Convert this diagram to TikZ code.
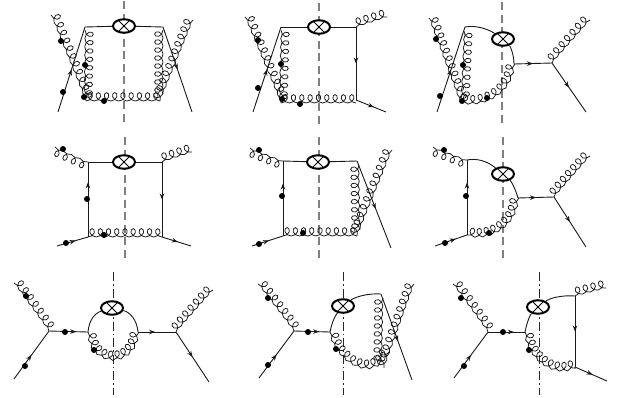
\documentclass[tikz,border=0pt]{standalone}
\usetikzlibrary{decorations,decorations.markings,arrows.meta,shapes.geometric}
% gluon: loops on the left of the direction of travel, base on the path
\def\gA{4.2}\def\gR{4.2}\def\gkA{2.2}\def\gkR{2.2}
\pgfdeclaredecoration{gloop}{initial}{
  \state{initial}[width={\pgfdecoratedpathlength/round(\pgfdecoratedpathlength/8.2)-0.01}]{
    \pgfmathsetmacro\gw{\pgfdecoratedpathlength/round(\pgfdecoratedpathlength/8.2)}
    \pgfpathcurveto{\pgfpoint{\gw/12+\gkA}{0}}{\pgfpoint{\gw/4+\gA-\gw/12}{\gR-\gkR}}{\pgfpoint{\gw/4+\gA}{\gR}}
    \pgfpathcurveto{\pgfpoint{\gw/4+\gA+\gw/12}{\gR+\gkR}}{\pgfpoint{\gw/2-\gw/12+\gkA}{2*\gR}}{\pgfpoint{\gw/2}{2*\gR}}
    \pgfpathcurveto{\pgfpoint{\gw/2+\gw/12-\gkA}{2*\gR}}{\pgfpoint{3*\gw/4-\gA-\gw/12}{\gR+\gkR}}{\pgfpoint{3*\gw/4-\gA}{\gR}}
    \pgfpathcurveto{\pgfpoint{3*\gw/4-\gA+\gw/12}{\gR-\gkR}}{\pgfpoint{\gw-\gw/12-\gkA}{0}}{\pgfpoint{\gw}{0}}
  }
  \state{final}{\pgfpathlineto{\pgfpointdecoratedpathlast}}
}
\tikzset{
  x=1pt,y=-1pt,
  fline/.style={line width=0.9pt,black!90},
  gluon/.style={line width=0.75pt,black!90,decorate,decoration={gloop}},
  arrowat/.style={postaction={decorate,decoration={markings,mark=at position #1 with {\arrow{Stealth[length=6pt,width=4.5pt]}}}}},
  dotn/.style={circle,fill=black,inner sep=0pt,minimum size=6pt},
  blob/.style={ellipse,draw=black,fill=white,line width=2pt,inner sep=0pt,minimum width=22pt,minimum height=13.5pt,
    path picture={\draw[line width=1pt] (path picture bounding box.center) +(-5,-5) -- +(5,5) +(-5,5) -- +(5,-5);}},
  cutg/.style={line width=1.2pt,black!50,dash pattern=on 8pt off 4.5pt},
  cutk/.style={line width=0.9pt,black!85,dash pattern=on 9pt off 3pt on 1.5pt off 3pt},
}
\begin{document}
\begin{tikzpicture}
\useasboundingbox (0,0) rectangle (630,397);
% ---------- diagram 1
\coordinate (a1) at (58,112); \coordinate (a2) at (85,27); \coordinate (a3) at (163,27); \coordinate (a4) at (192,112);
\coordinate (a5) at (51,15); \coordinate (a6) at (86,101); \coordinate (a7) at (193,20); \coordinate (a8) at (160,101);
\coordinate (a9) at (85,30); \coordinate (a10) at (84,97); \coordinate (a11) at (163,30); \coordinate (a12) at (163,94);
\coordinate (c1t) at (124,1); \coordinate (c1b) at (124,125);
\draw[cutg] (c1t) -- (c1b);
\draw[fline,arrowat=0.5] (a1) -- (a2);
\draw[fline,arrowat=0.5] (a3) -- (a4);
\draw[gluon] (a5) -- (a6);
\draw[gluon] (a8) -- (a7);
\draw[gluon] (a9) -- (a10);
\draw[gluon] (a12) -- (a11);
\draw[gluon] (a6) -- (a8);
\node[blob] (b1) at (124,26) {};
\draw[fline] (a2) -- (b1) -- (a3);
\node[dotn] (d11) at (61,41) {};
\node[dotn] (d12) at (63,92) {};
\node[dotn] (d13) at (85,65) {};
\node[dotn] (d14) at (84,97) {};
\node[dotn] (d15) at (104,101) {};
% ---------- diagram 2
\coordinate (e1) at (253,112); \coordinate (e2) at (281,27); \coordinate (e3) at (356,27); \coordinate (e4) at (356,100);
\coordinate (e5) at (386,112); \coordinate (e6) at (245,17); \coordinate (e7) at (281,103); \coordinate (e8) at (387,17);
\coordinate (e9) at (281,30); \coordinate (e10) at (279,98); \coordinate (e11) at (356,103);
\coordinate (c2t) at (319,3); \coordinate (c2b) at (319,125);
\draw[cutg] (c2t) -- (c2b);
\draw[fline,arrowat=0.5] (e1) -- (e2);
\draw[fline,arrowat=0.5] (e3) -- (e4);
\draw[fline,arrowat=0.6] (e4) -- (e5);
\draw[gluon] (e6) -- (e7);
\draw[gluon] (e3) -- (e8);
\draw[gluon] (e9) -- (e10);
\draw[gluon] (e7) -- (e11);
\node[blob] (b2) at (319,27) {};
\draw[fline] (e2) -- (b2) -- (e3);
\node[dotn] (d21) at (258,40) {};
\node[dotn] (d22) at (258,88) {};
\node[dotn] (d23) at (281,64) {};
\node[dotn] (d24) at (282,99) {};
\node[dotn] (d25) at (300,104) {};
% ---------- diagram 3
\coordinate (f1) at (437,112); \coordinate (f2) at (465,27); \coordinate (f3) at (514,64); \coordinate (f4) at (552,63);
\coordinate (f5) at (586,112); \coordinate (f6) at (429,18); \coordinate (f7) at (460,102); \coordinate (f8) at (590,20);
\coordinate (f9) at (464,31); \coordinate (f10) at (461,98);
\coordinate (c3t) at (502,2); \coordinate (c3b) at (502,125);
\draw[cutg] (c3t) -- (c3b);
\draw[fline,arrowat=0.5] (f1) -- (f2);
\draw[fline,arrowat=0.5] (f3) -- (f4);
\draw[fline,arrowat=0.5] (f4) -- (f5);
\draw[gluon] (f6) -- (f7);
\draw[gluon] (f4) -- (f8);
\draw[gluon] (f9) -- (f10);
\draw[gluon] (f7) .. controls (482,108) and (512,95) .. (f3);
\node[blob] (b3) at (503,39) {};
\draw[fline] (f2) .. controls (476,25) and (488,29) .. (b3);
\draw[fline] (b3) .. controls (510,46) and (514,54) .. (f3);
\node[dotn] (d31) at (436,39) {};
\node[dotn] (d32) at (440,96) {};
\node[dotn] (d33) at (463,65) {};
\node[dotn] (d34) at (462,101) {};
\node[dotn] (d35) at (487,98) {};
% ---------- diagram 4
\coordinate (g1) at (88,162); \coordinate (g2) at (162,162); \coordinate (g3) at (88,237); \coordinate (g4) at (162,237);
\coordinate (g5) at (57,246); \coordinate (g6) at (191,246); \coordinate (g7) at (55,147); \coordinate (g8) at (192,152);
\coordinate (c4t) at (125,137); \coordinate (c4b) at (125,260);
\draw[cutg] (c4t) -- (c4b);
\draw[fline,arrowat=0.73] (g3) -- (g1);
\draw[fline,arrowat=0.5] (g2) -- (g4);
\draw[fline,arrowat=0.6] (g5) -- (g3);
\draw[fline,arrowat=0.55] (g4) -- (g6);
\draw[gluon] (g1) -- (g7);
\draw[gluon] (g2) -- (g8);
\draw[gluon] (g3) -- (g4);
\node[blob] (b4) at (124,162) {};
\draw[fline] (g1) -- (b4) -- (g2);
\node[dotn] (d41) at (63,149) {};
\node[dotn] (d42) at (87,199) {};
\node[dotn] (d43) at (66,243) {};
\node[dotn] (d44) at (104,235) {};
% ---------- diagram 5
\coordinate (h1) at (283,161); \coordinate (h2) at (357,161); \coordinate (h3) at (283,236); \coordinate (h4) at (357,236);
\coordinate (h5) at (391,248); \coordinate (h6) at (252,246); \coordinate (h7) at (250,148); \coordinate (h8) at (392,150);
\coordinate (h9) at (359,165); \coordinate (h10) at (360,230);
\coordinate (c5t) at (319,137); \coordinate (c5b) at (319,260);
\draw[cutg] (c5t) -- (c5b);
\draw[fline,arrowat=0.7] (h3) -- (h1);
\draw[fline,arrowat=0.55] (h2) -- (h5);
\draw[fline,arrowat=0.55] (h6) -- (h3);
\draw[gluon] (h1) -- (h7);
\draw[gluon] (h4) -- (h8);
\draw[gluon] (h10) -- (h9);
\draw[gluon] (h3) -- (h4);
\node[blob] (b5) at (318,162) {};
\draw[fline] (h1) -- (b5) -- (h2);
\node[dotn] (d51) at (259,150) {};
\node[dotn] (d52) at (282,196) {};
\node[dotn] (d53) at (259,244) {};
\node[dotn] (d54) at (303,233) {};
% ---------- diagram 6
\coordinate (i1) at (467,160); \coordinate (i2) at (467,235); \coordinate (i3) at (435,246); \coordinate (i4) at (433,147);
\coordinate (i5) at (518,198); \coordinate (i6) at (554,197); \coordinate (i7) at (586,247); \coordinate (i8) at (590,156);
\coordinate (c6t) at (503,137); \coordinate (c6b) at (503,260);
\draw[cutg] (c6t) -- (c6b);
\draw[fline,arrowat=0.7] (i2) -- (i1);
\draw[fline,arrowat=0.65] (i3) -- (i2);
\draw[fline,arrowat=0.5] (i5) -- (i6);
\draw[fline,arrowat=0.5] (i6) -- (i7);
\draw[gluon] (i1) -- (i4);
\draw[gluon] (i6) -- (i8);
\draw[gluon] (i2) .. controls (487,241) and (516,229) .. (i5);
\node[blob] (b6) at (503,174) {};
\draw[fline] (i1) .. controls (477,158) and (487,161) .. (b6);
\draw[fline] (b6) .. controls (511,181) and (516,190) .. (i5);
\node[dotn] (d61) at (444,150) {};
\node[dotn] (d62) at (466,196) {};
\node[dotn] (d63) at (445,243) {};
\node[dotn] (d64) at (489,233) {};
% ---------- diagram 7
\coordinate (j1) at (14,379); \coordinate (j2) at (49,331); \coordinate (j3) at (88,332); \coordinate (j4) at (138,332);
\coordinate (j5) at (176,332); \coordinate (j6) at (209,382); \coordinate (j7) at (14,283); \coordinate (j8) at (213,290);
\coordinate (c7t) at (113,272); \coordinate (c7b) at (113,395);
\draw[cutk] (c7t) -- (c7b);
\draw[fline,arrowat=0.5] (j1) -- (j2);
\draw[fline,arrowat=0.7] (j2) -- (j3);
\draw[fline,arrowat=0.45] (j4) -- (j5);
\draw[fline,arrowat=0.5] (j5) -- (j6);
\draw[gluon] (j7) -- (j2);
\draw[gluon] (j5) -- (j8);
\draw[gluon] (j3) .. controls (90,368) and (136,368) .. (j4);
\node[blob] (b7) at (112,308) {};
\draw[fline] (j3) .. controls (89,320) and (95,313) .. (b7);
\draw[fline] (b7) .. controls (130,312) and (137,320) .. (j4);
\node[dotn] (d71) at (26,296) {};
\node[dotn] (d72) at (25,366) {};
\node[dotn] (d73) at (65,332) {};
\node[dotn] (d74) at (94,350) {};
% ---------- diagram 8
\coordinate (k1) at (259,378); \coordinate (k2) at (294,331); \coordinate (k3) at (330,332); \coordinate (k4) at (381,294);
\coordinate (k5) at (412,380); \coordinate (k6) at (258,284); \coordinate (k7) at (414,284); \coordinate (k8) at (384,368);
\coordinate (k9) at (383,298); \coordinate (k10) at (382,362); \coordinate (k11) at (388,352);
\coordinate (c8t) at (343,272); \coordinate (c8b) at (343,395);
\draw[cutk] (c8t) -- (c8b);
\draw[fline,arrowat=0.5] (k1) -- (k2);
\draw[fline,arrowat=0.7] (k2) -- (k3);
\draw[fline,arrowat=0.55] (k4) -- (k5);
\draw[gluon] (k6) -- (k2);
\draw[gluon] (k8) -- (k7);
\draw[gluon] (k10) -- (k9);
\draw[gluon] (k3) .. controls (334,360) and (372,385) .. (k11);
\node[blob] (b8) at (343,306) {};
\draw[fline] (k3) .. controls (332,322) and (335,316) .. (b8);
\draw[fline] (b8) .. controls (355,297) and (368,293) .. (k4);
\node[dotn] (d81) at (268,298) {};
\node[dotn] (d82) at (268,365) {};
\node[dotn] (d83) at (308,332) {};
\node[dotn] (d84) at (336,349) {};
% ---------- diagram 9
\coordinate (l1) at (454,378); \coordinate (l2) at (488,332); \coordinate (l3) at (525,332); \coordinate (l4) at (575,296);
\coordinate (l5) at (575,367); \coordinate (l6) at (607,381); \coordinate (l7) at (453,284); \coordinate (l8) at (606,288);
\coordinate (c9t) at (539,272); \coordinate (c9b) at (539,395);
\draw[cutk] (c9t) -- (c9b);
\draw[fline,arrowat=0.5] (l1) -- (l2);
\draw[fline,arrowat=0.7] (l2) -- (l3);
\draw[fline,arrowat=0.5] (l4) -- (l5);
\draw[fline,arrowat=0.55] (l5) -- (l6);
\draw[gluon] (l7) -- (l2);
\draw[gluon] (l4) -- (l8);
\draw[gluon] (l3) .. controls (527,360) and (555,378) .. (l5);
\node[blob] (b9) at (538,307) {};
\draw[fline] (l3) .. controls (527,322) and (530,315) .. (b9);
\draw[fline] (b9) .. controls (550,298) and (562,295) .. (l4);
\node[dotn] (d91) at (461,298) {};
\node[dotn] (d92) at (464,366) {};
\node[dotn] (d93) at (503,332) {};
\node[dotn] (d94) at (529,350) {};
\end{tikzpicture}
\end{document}
